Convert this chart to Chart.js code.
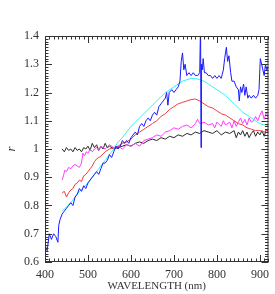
<!DOCTYPE html>
<html>
<head>
<meta charset="utf-8">
<script src="https://cdn.jsdelivr.net/npm/chart.js@4"></script>
<style>
  html, body { margin: 0; padding: 0; background: #fff; }
  #wrap { width: 275px; height: 294px; }
</style>
</head>
<body>
<div id="wrap"><canvas id="c"></canvas></div>
<script>
// axis ticks
const xTicks = [400, 500, 600, 700, 800, 900];
const yTicks = [0.6, 0.7, 0.8, 0.9, 1.0, 1.1, 1.2, 1.3, 1.4];

// blue spectrum (noisy)
const blueWave = [400, 405, 410, 415, 420, 425, 430, 432, 435, 440, 445, 450, 455, 460, 465, 470, 475, 480, 485, 490,
  495, 500, 505, 510, 515, 520, 525, 530, 535, 540, 545, 550, 555, 560, 565, 570, 575, 580, 585, 590,
  595, 600, 605, 610, 615, 620, 625, 630, 635, 640, 645, 650, 655, 660, 665, 670, 675, 680, 683, 686,
  689, 695, 700, 705, 710, 714, 717, 720, 723, 726, 730, 735, 740, 745, 750, 755, 760, 762, 763, 764,
  766, 768, 771, 775, 780, 785, 790, 795, 800, 805, 810, 815, 818, 822, 825, 828, 832, 835, 840, 845,
  850, 852, 855, 858, 862, 865, 868, 872, 875, 880, 885, 890, 895, 898, 901, 904, 907, 910, 913, 916, 920];
const blueVals = [0.66, 0.64, 0.70, 0.68, 0.70, 0.69, 0.67, 0.73, 0.75, 0.77, 0.78, 0.79, 0.80, 0.81, 0.80, 0.83, 0.84, 0.86, 0.85, 0.87,
  0.86, 0.88, 0.89, 0.90, 0.91, 0.92, 0.91, 0.93, 0.95, 0.95, 0.96, 0.98, 0.97, 0.99, 1.01, 1.00, 1.01, 1.03, 1.02, 1.03,
  1.02, 1.04, 1.05, 1.06, 1.05, 1.08, 1.09, 1.08, 1.10, 1.11, 1.10, 1.12, 1.13, 1.12, 1.15, 1.16, 1.17, 1.18, 1.20, 1.155,
  1.20, 1.21, 1.20, 1.21, 1.22, 1.24, 1.31, 1.34, 1.28, 1.30, 1.26, 1.27, 1.26, 1.27, 1.26, 1.26, 1.27, 1.45, 1.005, 1.30,
  1.28, 1.32, 1.27, 1.27, 1.26, 1.26, 1.25, 1.26, 1.25, 1.26, 1.25, 1.28, 1.32, 1.36, 1.31, 1.33, 1.27, 1.24, 1.24, 1.22,
  1.21, 1.17, 1.22, 1.20, 1.23, 1.19, 1.22, 1.18, 1.19, 1.18, 1.19, 1.18, 1.19, 1.21, 1.32, 1.30, 1.28, 1.26, 1.30, 1.28, 1.29];

// cyan spectrum (smooth)
const cyanWave = [440, 450, 460, 470, 480, 490, 500, 510, 520, 530, 540, 550, 560, 570, 580, 590, 600, 610, 620, 630,
  640, 650, 660, 670, 680, 690, 700, 710, 720, 730, 740, 750, 760, 770, 780, 790, 800, 810, 820, 830,
  840, 850, 860, 870, 880, 890, 900, 910, 920];
const cyanVals = [0.78, 0.795, 0.81, 0.83, 0.85, 0.865, 0.88, 0.90, 0.92, 0.94, 0.96, 0.98, 1.00, 1.025, 1.04, 1.06, 1.08, 1.095, 1.11, 1.125,
  1.14, 1.155, 1.17, 1.185, 1.20, 1.21, 1.22, 1.23, 1.24, 1.245, 1.25, 1.25, 1.245, 1.24, 1.23, 1.22, 1.21, 1.20, 1.19, 1.175,
  1.16, 1.145, 1.13, 1.12, 1.11, 1.10, 1.09, 1.085, 1.085];

// red spectrum
const redWave = [440, 445, 450, 455, 460, 465, 470, 475, 480, 485, 490, 495, 500, 505, 510, 515, 520, 530, 540, 550,
  560, 570, 580, 590, 600, 610, 620, 630, 640, 650, 660, 670, 680, 690, 700, 710, 720, 730, 740, 750,
  760, 770, 780, 790, 800, 810, 820, 830, 840, 850, 860, 870, 880, 890, 900, 910, 920];
const redVals = [0.845, 0.85, 0.83, 0.845, 0.855, 0.86, 0.875, 0.88, 0.89, 0.885, 0.905, 0.91, 0.92, 0.93, 0.94, 0.955, 0.965, 0.975, 0.99, 1.0,
  1.005, 1.01, 1.02, 1.025, 1.035, 1.05, 1.06, 1.07, 1.08, 1.09, 1.10, 1.115, 1.125, 1.14, 1.15, 1.16, 1.165, 1.17, 1.175, 1.177,
  1.17, 1.16, 1.15, 1.145, 1.135, 1.125, 1.12, 1.11, 1.10, 1.09, 1.085, 1.075, 1.07, 1.065, 1.065, 1.06, 1.07];

// magenta spectrum
const magentaWave = [440, 443, 446, 450, 455, 460, 465, 470, 475, 480, 485, 488, 492, 496, 500, 505, 510, 515, 520, 525,
  530, 540, 550, 560, 570, 580, 590, 600, 610, 620, 630, 640, 650, 660, 670, 680, 690, 700, 710, 720,
  730, 740, 750, 755, 760, 770, 780, 790, 795, 800, 810, 815, 820, 830, 835, 840, 845, 850, 855, 860,
  865, 870, 875, 880, 885, 890, 895, 900, 905, 910, 915, 920];
const magentaVals = [0.89, 0.905, 0.925, 0.92, 0.935, 0.93, 0.94, 0.945, 0.94, 0.935, 0.95, 0.985, 0.975, 0.99, 0.985, 1.0, 0.99, 1.0, 1.005, 0.995,
  1.01, 1.0, 1.015, 1.005, 1.01, 1.0, 1.015, 1.01, 1.02, 1.01, 1.03, 1.035, 1.04, 1.05, 1.045, 1.06, 1.065, 1.075, 1.07, 1.08,
  1.085, 1.075, 1.09, 1.105, 1.09, 1.095, 1.085, 1.09, 1.075, 1.095, 1.08, 1.10, 1.085, 1.095, 1.075, 1.10, 1.08, 1.095, 1.11, 1.09,
  1.105, 1.085, 1.11, 1.095, 1.10, 1.115, 1.10, 1.12, 1.135, 1.105, 1.13, 1.11];

// black spectrum
const blackWave = [440, 445, 450, 455, 460, 465, 470, 475, 480, 485, 490, 495, 500, 505, 510, 515, 520, 525, 530, 535,
  540, 545, 550, 560, 570, 580, 590, 600, 610, 620, 630, 640, 650, 660, 670, 680, 690, 700, 710, 720,
  730, 740, 750, 760, 770, 780, 790, 800, 810, 820, 830, 840, 845, 850, 855, 860, 865, 870, 875, 880,
  885, 890, 895, 900, 905, 910, 915, 920];
const blackVals = [1.0, 0.99, 1.005, 0.995, 1.0, 0.99, 1.005, 0.995, 1.0, 0.99, 1.005, 1.0, 1.01, 0.995, 1.02, 1.005, 1.015, 0.995, 1.01, 1.0,
  1.02, 1.005, 1.01, 1.0, 1.005, 1.01, 1.015, 1.01, 1.02, 1.025, 1.02, 1.03, 1.035, 1.03, 1.04, 1.035, 1.045, 1.04, 1.05, 1.045,
  1.055, 1.05, 1.06, 1.055, 1.065, 1.06, 1.055, 1.065, 1.05, 1.06, 1.055, 1.065, 1.04, 1.06, 1.05, 1.065, 1.045, 1.06, 1.04, 1.055,
  1.065, 1.045, 1.06, 1.05, 1.065, 1.045, 1.07, 1.06];

const pts = (xs, ys) => xs.map((x, i) => ({ x: x, y: ys[i] }));

function spectrum(label, xs, ys, color) {
  return {
    label: label,
    data: pts(xs, ys),
    borderColor: color,
    borderWidth: 1,
    pointRadius: 0,
    tension: 0,
    fill: false,
  };
}

// IDL-style box with inward ticks on all four sides
const frameTicks = {
  id: 'frameTicks',
  afterDraw(chart) {
    const { ctx, chartArea: a, scales } = chart;
    const sx = scales.x, sy = scales.y;
    ctx.save();
    ctx.strokeStyle = '#333';
    ctx.lineWidth = 1;
    ctx.strokeRect(a.left + 0.5, a.top + 0.5, a.right - a.left - 1, a.bottom - a.top - 1);
    ctx.beginPath();
    for (let v = 400; v <= 920; v += 10) {
      const px = Math.round(sx.getPixelForValue(v)) + 0.5;
      const len = v % 100 === 0 ? 7 : 3.5;
      ctx.moveTo(px, a.bottom); ctx.lineTo(px, a.bottom - len);
      ctx.moveTo(px, a.top); ctx.lineTo(px, a.top + len);
    }
    for (let i = 60; i <= 140; i++) {
      const py = Math.round(sy.getPixelForValue(i / 100)) + 0.5;
      const len = i % 10 === 0 ? 7 : 3.5;
      ctx.moveTo(a.left, py); ctx.lineTo(a.left + len, py);
      ctx.moveTo(a.right, py); ctx.lineTo(a.right - len, py);
    }
    ctx.stroke();
    ctx.restore();
  }
};

const serif = 'Liberation Serif, Times New Roman, serif';

new Chart(document.getElementById('c'), {
  type: 'line',
  data: {
    datasets: [
      spectrum('blue', blueWave, blueVals, '#1a1aff'),
      spectrum('cyan', cyanWave, cyanVals, '#2ef5f5'),
      spectrum('red', redWave, redVals, '#f03c3c'),
      spectrum('magenta', magentaWave, magentaVals, '#ff3cff'),
      spectrum('black', blackWave, blackVals, '#2a2a2a'),
    ]
  },
  options: {
    responsive: true,
    maintainAspectRatio: false,
    animation: false,
    layout: { padding: { top: 36, right: 3, left: 0, bottom: 0 } },
    plugins: { legend: { display: false }, tooltip: { enabled: false } },
    scales: {
      x: {
        type: 'linear',
        min: 400,
        max: 920,
        afterFit(s) { s.height = 32; },
        afterBuildTicks(s) { s.ticks = xTicks.map(v => ({ value: v })); },
        grid: { display: false, drawTicks: false },
        border: { display: false },
        ticks: { color: '#333', padding: 6, maxRotation: 0, font: { family: serif, size: 12 } },
        title: {
          display: true,
          text: 'WAVELENGTH (nm)',
          color: '#333',
          padding: { top: 0, bottom: 1 },
          font: { family: serif, size: 11 }
        }
      },
      y: {
        type: 'linear',
        min: 0.6,
        max: 1.4,
        afterFit(s) { s.width = 45; },
        afterBuildTicks(s) { s.ticks = yTicks.map(v => ({ value: v })); },
        grid: { display: false, drawTicks: false },
        border: { display: false },
        ticks: {
          color: '#333',
          padding: 6,
          font: { family: serif, size: 12 },
          callback: v => (Math.abs(v - 1) < 1e-6 ? '1' : v.toFixed(1))
        },
        title: {
          display: true,
          text: 'r',
          color: '#333',
          padding: { top: 4, bottom: 0 },
          font: { family: serif, size: 13, style: 'italic' }
        }
      }
    }
  },
  plugins: [frameTicks]
});
</script>
</body>
</html>
